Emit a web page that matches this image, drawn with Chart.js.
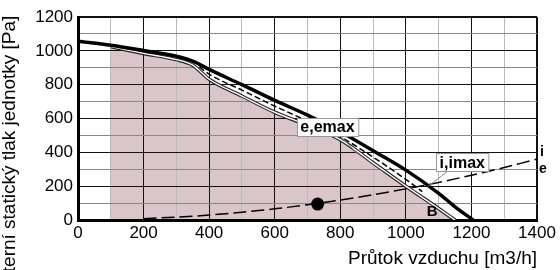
<!DOCTYPE html>
<html>
<head>
<meta charset="utf-8">
<script src="https://cdn.jsdelivr.net/npm/chart.js@4.4.1/dist/chart.umd.min.js"></script>
<style>
  html, body { margin: 0; padding: 0; background: #fff; }
  #wrap { width: 560px; height: 270px; }
</style>
</head>
<body>
<div id="wrap"><canvas id="fanChart" width="560" height="270"></canvas></div>
<script>
// odečtené hodnoty z grafu (průtok m3/h, tlak Pa)
const flowE = [0, 100, 200, 300, 355, 400, 500, 600, 700, 800, 900, 1000, 1100, 1150, 1205];
const pressE = [1057, 1033, 1002, 968, 935, 890, 800, 707, 620, 522, 410, 295, 158, 78, 0];

const flowI = [370, 400, 500, 600, 700, 800, 900, 1000, 1050];
const pressI = [905, 862, 768, 673, 585, 492, 372, 240, 168];

const flowB = [100, 200, 300, 350, 400, 500, 600, 700, 800, 900, 1000, 1100, 1150];
const pressB = [1025, 985, 948, 915, 832, 733, 637, 560, 475, 338, 200, 68, 0];

const flowSys = [200, 300, 400, 500, 600, 700, 800, 900, 1000, 1100, 1200, 1300, 1400];
const pressSys = [8, 17, 29, 46, 66, 90, 118, 149, 184, 222, 265, 310, 360];

const pointFlow = [731];
const pointPress = [94];

// popisky (v souřadnicích grafu)
const boxLabels = [
    { text: 'e,emax', x: 761, y: 551, from: [805, 490], to: [851, 392] },
    { text: 'i,imax', x: 1172, y: 342, from: [1134, 297], to: [1068, 199] }
];

const FONT = '"Liberation Sans", Arial, sans-serif';

function toPoints(xs, ys) {
    return xs.map((x, i) => ({ x: x, y: ys[i] }));
}

// vlastní kreslení popisků a osy Y
const labelPlugin = {
    id: 'labels',
    afterDatasetsDraw(chart) {
        const ctx = chart.ctx;
        const sx = chart.scales.x;
        const sy = chart.scales.y;
        ctx.save();

        boxLabels.forEach(lb => {
            // odkazová čára
            ctx.strokeStyle = '#888';
            ctx.lineWidth = 1;
            ctx.beginPath();
            ctx.moveTo(sx.getPixelForValue(lb.from[0]), sy.getPixelForValue(lb.from[1]));
            ctx.lineTo(sx.getPixelForValue(lb.to[0]), sy.getPixelForValue(lb.to[1]));
            ctx.stroke();

            ctx.font = 'bold 16px ' + FONT;
            const w = ctx.measureText(lb.text).width + 7;
            const h = 18;
            const cx = sx.getPixelForValue(lb.x);
            const cy = sy.getPixelForValue(lb.y);
            ctx.fillStyle = '#fff';
            ctx.fillRect(Math.round(cx - w / 2) + 0.5, Math.round(cy - h / 2) + 0.5, w, h);
            ctx.strokeStyle = '#999';
            ctx.strokeRect(Math.round(cx - w / 2) + 0.5, Math.round(cy - h / 2) + 0.5, w, h);
            ctx.fillStyle = '#000';
            ctx.textAlign = 'center';
            ctx.textBaseline = 'middle';
            ctx.fillText(lb.text, cx, cy + 1);
        });

        // B
        ctx.font = 'bold 15px ' + FONT;
        ctx.fillStyle = '#000';
        ctx.textAlign = 'center';
        ctx.textBaseline = 'middle';
        ctx.fillText('B', sx.getPixelForValue(1080), sy.getPixelForValue(46));

        // i / e na pravém okraji
        ctx.font = 'bold 14px ' + FONT;
        ctx.textAlign = 'left';
        ctx.fillText('i', chart.chartArea.right + 3, sy.getPixelForValue(400));
        ctx.fillText('e', chart.chartArea.right + 2, sy.getPixelForValue(300));
        ctx.restore();
    },
    afterDraw(chart) {
        const ctx = chart.ctx;
        ctx.save();
        ctx.translate(15, 155);
        ctx.rotate(-Math.PI / 2);
        ctx.font = '19px ' + FONT;
        ctx.fillStyle = '#000';
        ctx.textAlign = 'center';
        ctx.textBaseline = 'alphabetic';
        ctx.fillText('Externí statický tlak jednotky [Pa]', 0, 0);
        ctx.restore();
    }
};

const chart = new Chart(document.getElementById('fanChart'), {
    type: 'line',
    data: {
        datasets: [
            {
                label: 'bod',
                data: toPoints(pointFlow, pointPress),
                showLine: false,
                pointRadius: 6.5,
                pointBackgroundColor: '#000',
                pointBorderWidth: 0
            },
            {
                label: 'e',
                data: toPoints(flowE, pressE),
                borderColor: '#000',
                borderWidth: 3.5,
                pointRadius: 0,
                cubicInterpolationMode: 'monotone'
            },
            {
                label: 'síť',
                data: toPoints(flowSys, pressSys),
                borderColor: '#000',
                borderWidth: 1.5,
                borderDash: [13, 5],
                pointRadius: 0,
                tension: 0.3
            },
            {
                label: 'i',
                data: toPoints(flowI, pressI),
                borderColor: '#000',
                borderWidth: 1.5,
                borderDash: [6, 3],
                pointRadius: 0,
                cubicInterpolationMode: 'monotone'
            },
            {
                label: 'B vnitřní',
                data: toPoints(flowB, pressB),
                borderColor: '#fff',
                borderWidth: 1.4,
                pointRadius: 0,
                cubicInterpolationMode: 'monotone'
            },
            {
                label: 'B',
                data: toPoints(flowB, pressB),
                borderColor: '#222',
                borderWidth: 3.6,
                pointRadius: 0,
                fill: 'origin',
                backgroundColor: '#d9c5ca',
                cubicInterpolationMode: 'monotone'
            }
        ]
    },
    options: {
        responsive: false,
        animation: false,
        devicePixelRatio: 1,
        layout: { padding: { top: 17, right: 23, left: 0, bottom: 0 } },
        plugins: {
            legend: { display: false },
            tooltip: { enabled: false },
            filler: { drawTime: 'beforeDraw' }
        },
        scales: {
            x: {
                type: 'linear',
                min: 0,
                max: 1400,
                afterFit: s => { s.height = 50; },
                border: { display: true, color: '#000', width: 3 },
                grid: {
                    drawTicks: false,
                    color: c => (c.tick.value % 200 === 0 ? '#111' : '#bbb'),
                    lineWidth: c => (c.tick.value === 1400 ? 2 : 1)
                },
                ticks: {
                    stepSize: 100,
                    autoSkip: false,
                    maxRotation: 0,
                    padding: 3,
                    color: '#000',
                    font: { family: FONT, size: 17 },
                    callback: v => (v % 200 === 0 ? v : '')
                },
                title: {
                    display: true,
                    text: 'Průtok vzduchu [m3/h]',
                    align: 'end',
                    color: '#000',
                    padding: 0,
                    font: { family: FONT, size: 19 }
                }
            },
            y: {
                min: 0,
                max: 1200,
                afterFit: s => { s.width = 78; },
                border: { display: true, color: '#000', width: 3 },
                grid: {
                    drawTicks: false,
                    color: c => (c.tick.value % 200 === 0 ? '#111' : '#888'),
                    lineWidth: c => (c.tick.value === 1200 ? 2 : 1)
                },
                ticks: {
                    stepSize: 100,
                    autoSkip: false,
                    padding: 5,
                    color: '#000',
                    font: { family: FONT, size: 17 },
                    callback: v => (v % 200 === 0 ? v : '')
                }
            }
        }
    },
    plugins: [labelPlugin]
});
</script>
</body>
</html>
